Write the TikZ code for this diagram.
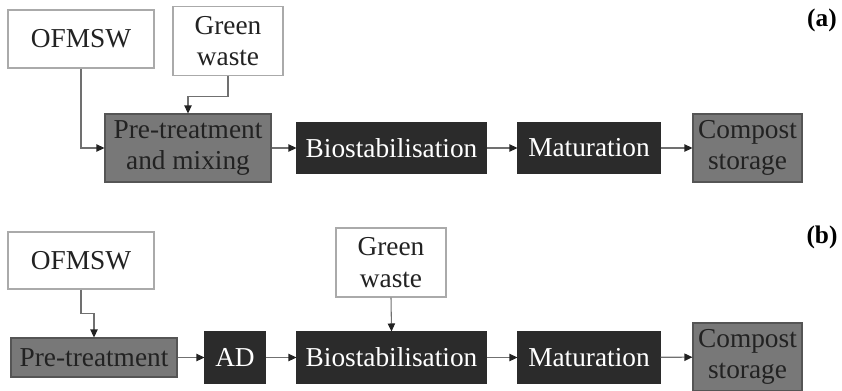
\documentclass[tikz,border=0pt]{standalone}
\usepackage{fontspec}
\setmainfont{Liberation Serif}
\usetikzlibrary{arrows.meta}
\definecolor{gfill}{HTML}{787878}
\definecolor{gline}{HTML}{555555}
\definecolor{dfill}{HTML}{2B2B2B}
\definecolor{wline}{HTML}{AAAAAA}
\definecolor{tcol}{HTML}{222222}
\definecolor{acol}{HTML}{707070}
\tikzset{
  sz/.style 2 args={minimum width=#1*0.75pt, minimum height=#2*0.75pt},
  base/.style={rectangle, inner sep=0pt, align=center, font=\fontsize{20.5}{23.5}\selectfont, line width=0.8pt},
  wbox/.style={base, draw=wline, fill=white, text=tcol},
  gbox/.style={base, draw=gline, fill=gfill, text=tcol},
  dbox/.style={base, draw=dfill, fill=dfill, text=white},
  arr/.style={draw=acol, line width=0.8pt, -{Triangle[length=6pt,width=5.5pt,color=tcol]}},
  lab/.style={font=\fontsize{19}{22}\selectfont\bfseries, text=black, inner sep=0pt}
}
\begin{document}
\begin{tikzpicture}[x=0.75pt,y=-0.75pt]
\useasboundingbox (0,0) rectangle (842,390);
% panel (a)
\node[wbox, sz={146}{58}] (o1) at (81,39) {OFMSW};
\node[wbox, sz={110}{69}] (g1) at (228,41) {Green\\waste};
\node[gbox, sz={166}{68}] (p1) at (188,148) {Pre-treatment\\and mixing};
\node[dbox, sz={189}{51}] (b1) at (391.5,148) {Biostabilisation};
\node[dbox, sz={142}{51}] (m1) at (589,148) {Maturation};
\node[gbox, sz={109}{68}] (c1) at (747.5,148) {Compost\\storage};
\node[lab] (la) at (822,20) {(a)};
\draw[arr] (o1.south) |- (p1.west);
\draw[arr] (g1.south) -- ++(0,20) -| (p1.north);
\draw[arr] (p1) -- (b1);
\draw[arr] (b1) -- (m1);
\draw[arr] (m1) -- (c1);
% panel (b)
\node[wbox, sz={146}{57}] (o2) at (81,260.5) {OFMSW};
\node[wbox, sz={110}{69}] (g2) at (391,262.5) {Green\\waste};
\node[gbox, sz={166}{39}] (p2) at (94,357.5) {Pre-treatment};
\node[dbox, sz={60}{51}] (a2) at (235,357.5) {AD};
\node[dbox, sz={189}{51}] (b2) at (391.5,357.5) {Biostabilisation};
\node[dbox, sz={142}{51}] (m2) at (589,357.5) {Maturation};
\node[gbox, sz={109}{68}] (c2) at (747.5,357) {Compost\\storage};
\node[lab] (lb) at (822,237) {(b)};
\draw[arr] (o2.south) -- ++(0,24) -| (p2.north);
\draw[arr] (g2.south) -- (b2.north);
\draw[arr] (p2) -- (a2);
\draw[arr] (a2) -- (b2);
\draw[arr] (b2) -- (m2);
\draw[arr] (m2) -- (c2);
\end{tikzpicture}
\end{document}
